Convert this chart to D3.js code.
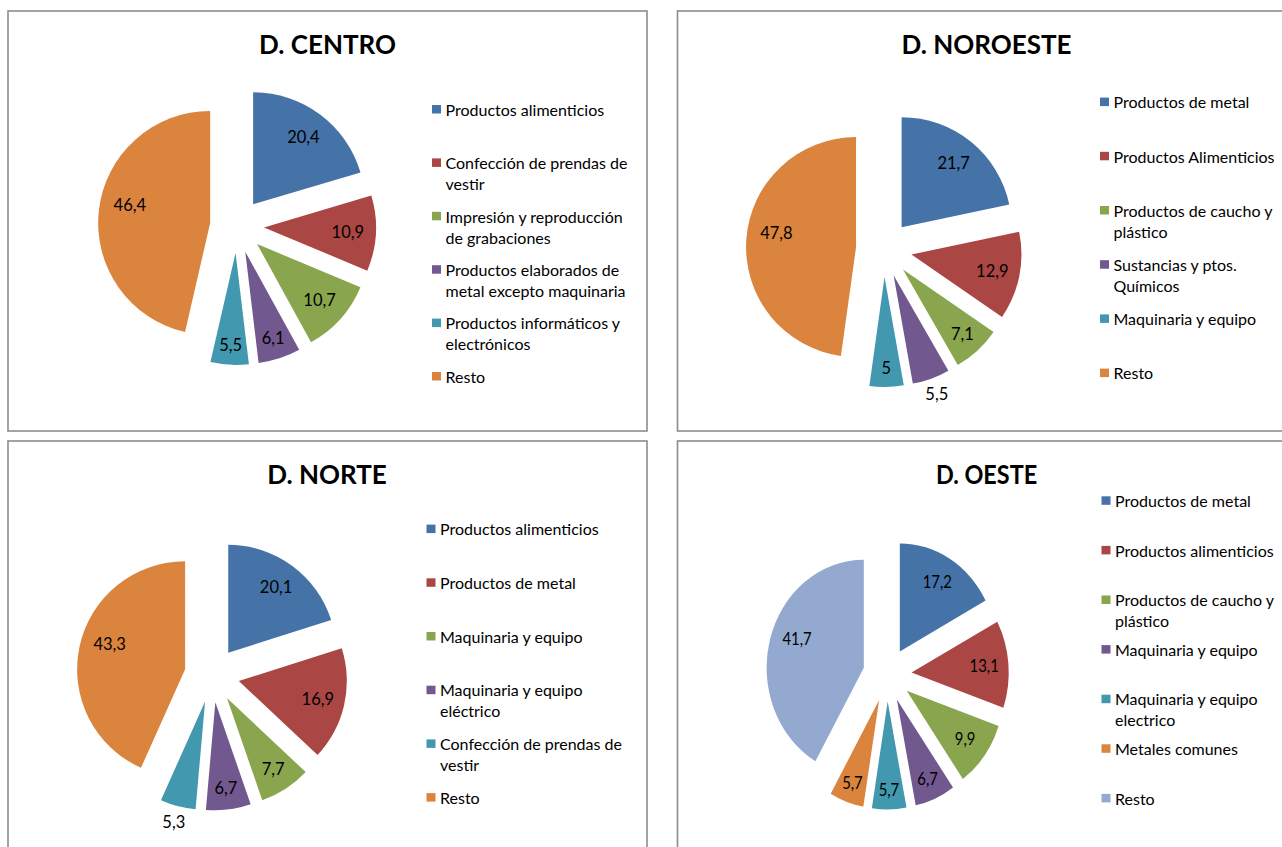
<!DOCTYPE html>
<html><head><meta charset="utf-8">
<script src="https://cdn.jsdelivr.net/npm/d3@7"></script>
<style>body{margin:0;background:#fff;} svg{display:block;font-family:Lato,'Open Sans',sans-serif;}</style>
</head><body>
<svg id="c" width="1282" height="847"></svg>
<script>
// ---- data ----
const palette = ["#4572A7","#AA4643","#89A54E","#71588F","#4198AF","#DB843D","#93A9CF"];
const titles = ["D. CENTRO","D. NOROESTE","D. NORTE","D. OESTE"];

const centroCategories = ["Productos alimenticios","Confección de prendas de\nvestir","Impresión y reproducción\nde grabaciones","Productos elaborados de\nmetal excepto maquinaria","Productos informáticos y\nelectrónicos","Resto"];
const centroValues = [20.4,10.9,10.7,6.1,5.5,46.4];

const noroesteCategories = ["Productos de metal","Productos Alimenticios","Productos de caucho y\nplástico","Sustancias y ptos.\nQuímicos","Maquinaria y equipo","Resto"];
const noroesteValues = [21.7,12.9,7.1,5.5,5,47.8];

const norteCategories = ["Productos alimenticios","Productos de metal","Maquinaria y equipo","Maquinaria y equipo\neléctrico","Confección de prendas de\nvestir","Resto"];
const norteValues = [20.1,16.9,7.7,6.7,5.3,43.3];

const oesteCategories = ["Productos de metal","Productos alimenticios","Productos de caucho y\nplástico","Maquinaria y equipo","Maquinaria y equipo\nelectrico","Metales comunes","Resto"];
const oesteValues = [17.2,13.1,9.9,6.7,5.7,5.7,41.7];

const categoriesList = [centroCategories, noroesteCategories, norteCategories, oesteCategories];
const valuesList = [centroValues, noroesteValues, norteValues, oesteValues];

// ---- layout ----
const panels = [
  {x:8, y:11, cx:237, cy:226, r:112, sx:1, d:27, tx:327.5, ty:54, lx:432, ly:115.7, ls:53.4, outside:[]},
  {x:677.5, y:11, cx:884, cy:249, r:110, sx:1, d:28, tx:986.5, ty:54, lx:1100, ly:108.3, ls:54.2, outside:[3]},
  {x:8, y:441, cx:212, cy:675, r:108, sx:1, d:27.5, tx:327, ty:484, lx:426.5, ly:535.3, ls:53.7, outside:[4]},
  {x:677.5, y:441, cx:887.3, cy:674.6, r:108, sx:0.9, d:27, tx:986.5, ty:484, lx:1101.5, ly:507, ls:49.6, outside:[]}
];

const svg = d3.select("#c");
const fmt = v => String(v).replace(".", ",");

panels.forEach((p, k) => {
  const cats = categoriesList[k], vals = valuesList[k];
  const g = svg.append("g");
  g.append("rect").attr("x", p.x).attr("y", p.y).attr("width", 639).attr("height", 420)
    .attr("fill", "#fff").attr("stroke", "#8c8c8c").attr("stroke-width", 1.6);

  g.append("text").attr("transform", `translate(${p.tx},${p.ty}) scale(${p.sx},1)`)
    .attr("text-anchor", "middle")
    .attr("font-weight", "bold").attr("font-size", 26).attr("fill", "#000").text(titles[k]);

  const color = d3.scaleOrdinal().domain(cats).range(palette);
  const pie = d3.pie().sort(null).value(d => d.v);
  const arcs = pie(vals.map((v, i) => ({v, c: cats[i], i})));
  const arc = d3.arc().innerRadius(0).outerRadius(p.r);
  const total = d3.sum(vals);

  arcs.forEach(a => {
    const mid = (a.startAngle + a.endAngle) / 2;
    const ux = Math.sin(mid), uy = -Math.cos(mid);
    const ex = p.cx + p.sx * p.d * ux, ey = p.cy + p.d * uy;
    g.append("path").attr("d", arc(a)).attr("transform", `translate(${ex},${ey}) scale(${p.sx},1)`)
      .attr("fill", color(a.data.c));
    const f = a.data.v / total;
    let fac = f >= 0.1 ? 0.75 : 0.75 + (0.1 - f) * 1.6;
    let ang = mid;
    if (f > 0.3) { fac = 0.735; ang = mid + 6 * Math.PI / 180; }
    if (p.outside.includes(a.data.i)) fac = 1.15;
    const lx = ex + p.sx * fac * p.r * Math.sin(ang);
    const ly = ey - fac * p.r * Math.cos(ang) + 5.8;
    g.append("text").attr("transform", `translate(${lx},${ly}) scale(${p.sx},1)`)
      .attr("text-anchor", "middle").attr("font-size", 16.5).attr("fill", "#000")
      .text(fmt(a.data.v));
  });

  cats.forEach((c, i) => {
    const by = p.ly + i * p.ls;
    g.append("rect").attr("x", p.lx).attr("y", by - 10.7).attr("width", 9).attr("height", 8.5)
      .attr("fill", color(c));
    const t = g.append("text").attr("x", p.lx + 13.5).attr("y", by).attr("font-size", 16).attr("fill", "#000");
    c.split("\n").forEach((line, j) => {
      t.append("tspan").attr("x", p.lx + 13.5).attr("y", by + j * 21).text(line);
    });
  });
});
</script>
</body></html>
